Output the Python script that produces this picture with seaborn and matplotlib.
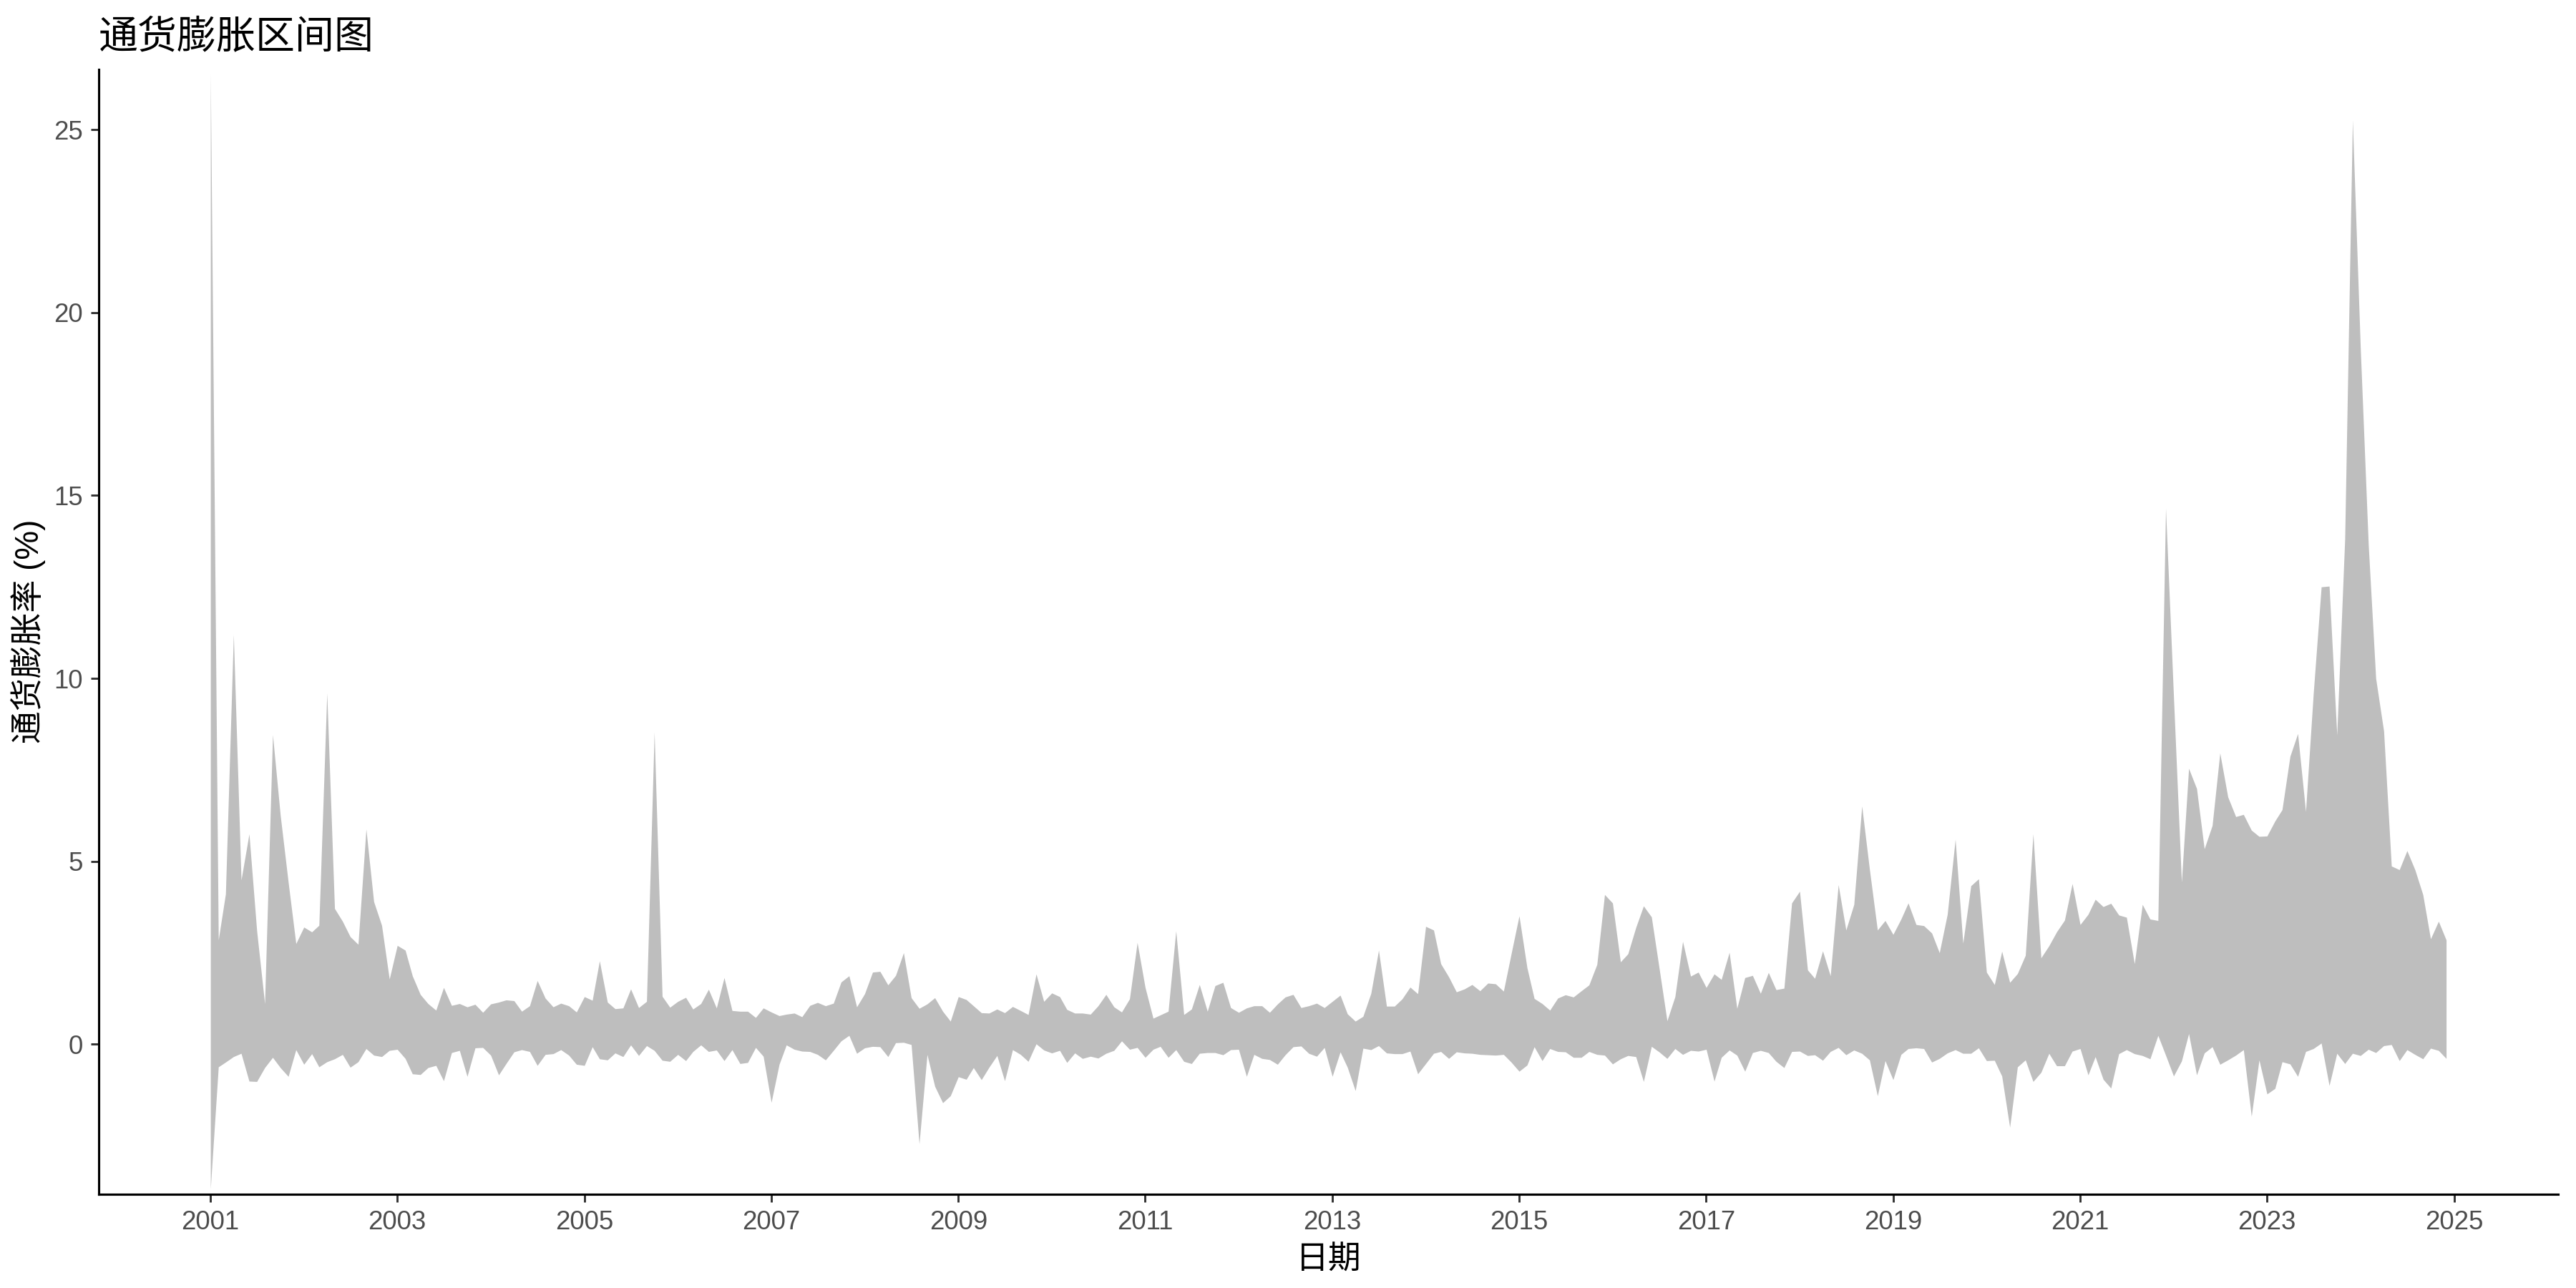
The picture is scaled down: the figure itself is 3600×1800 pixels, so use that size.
import numpy as np
import pandas as pd
import matplotlib
matplotlib.use("Agg")
import matplotlib.pyplot as plt
import seaborn as sns

# Datos mensuales 2001-01 .. 2024-12 (limite superior e inferior del intervalo, %)
fechas = pd.date_range("2001-01-01", periods=288, freq="MS")

superior = [
    26.55, 2.85, 4.11, 11.2, 4.49, 5.75, 3.10, 1.11, 8.46, 6.26, 4.43, 2.75,
    3.20, 3.07, 3.25, 9.6, 3.71, 3.36, 2.94, 2.73, 5.88, 3.90, 3.25, 1.78,
    2.70, 2.57, 1.87, 1.36, 1.11, 0.93, 1.55, 1.06, 1.11, 1.02, 1.09, 0.87,
    1.10, 1.15, 1.21, 1.19, 0.90, 1.05, 1.74, 1.26, 1.02, 1.12, 1.05, 0.88,
    1.30, 1.20, 2.28, 1.15, 0.97, 0.99, 1.51, 1.00, 1.17, 8.53, 1.31, 1.01,
    1.17, 1.28, 0.96, 1.11, 1.50, 0.99, 1.82, 0.92, 0.90, 0.90, 0.73, 0.99,
    0.88, 0.78, 0.82, 0.85, 0.75, 1.06, 1.14, 1.05, 1.12, 1.70, 1.87, 1.02,
    1.38, 1.97, 1.99, 1.62, 1.88, 2.50, 1.27, 0.98, 1.10, 1.27, 0.90, 0.63,
    1.30, 1.22, 1.05, 0.86, 0.85, 0.96, 0.86, 1.03, 0.92, 0.81, 1.92, 1.17,
    1.40, 1.30, 0.95, 0.85, 0.85, 0.82, 1.05, 1.36, 1.02, 0.88, 1.24, 2.78,
    1.55, 0.71, 0.80, 0.90, 3.10, 0.81, 0.96, 1.63, 0.90, 1.60, 1.69, 1.00,
    0.87, 0.99, 1.05, 1.05, 0.87, 1.10, 1.29, 1.36, 1.00, 1.05, 1.12, 1.00,
    1.17, 1.34, 0.83, 0.63, 0.76, 1.39, 2.57, 1.04, 1.04, 1.24, 1.56, 1.38,
    3.22, 3.12, 2.20, 1.84, 1.43, 1.51, 1.63, 1.46, 1.67, 1.65, 1.45, 2.47,
    3.51, 2.09, 1.25, 1.11, 0.93, 1.26, 1.35, 1.29, 1.46, 1.62, 2.18, 4.09,
    3.86, 2.25, 2.47, 3.19, 3.78, 3.48, 2.09, 0.64, 1.30, 2.81, 1.86, 1.97,
    1.55, 1.92, 1.77, 2.51, 0.98, 1.82, 1.88, 1.39, 1.96, 1.49, 1.53, 3.86,
    4.18, 2.03, 1.80, 2.55, 1.87, 4.36, 3.12, 3.82, 6.51, 4.78, 3.12, 3.38,
    3.00, 3.42, 3.86, 3.27, 3.24, 3.04, 2.50, 3.55, 5.60, 2.76, 4.33, 4.52,
    1.97, 1.63, 2.54, 1.69, 1.93, 2.43, 5.75, 2.36, 2.69, 3.07, 3.39, 4.39,
    3.27, 3.55, 3.96, 3.76, 3.85, 3.53, 3.47, 2.20, 3.82, 3.42, 3.38, 14.65,
    9.5, 4.43, 7.54, 6.99, 5.34, 5.98, 7.96, 6.76, 6.22, 6.28, 5.85, 5.68,
    5.69, 6.10, 6.41, 7.87, 8.49, 6.36, 9.58, 12.5, 12.52, 8.45, 13.82, 25.26,
    19.0, 13.65, 10.0, 8.56, 4.87, 4.77, 5.29, 4.77, 4.09, 2.88, 3.36, 2.85,
]

inferior = [
    -3.95, -0.62, -0.49, -0.34, -0.25, -1.01, -1.02, -0.64, -0.36, -0.64, -0.88, -0.15,
    -0.55, -0.26, -0.62, -0.48, -0.40, -0.28, -0.63, -0.48, -0.12, -0.30, -0.34, -0.17,
    -0.14, -0.39, -0.81, -0.83, -0.64, -0.58, -1.00, -0.23, -0.17, -0.88, -0.10, -0.09,
    -0.30, -0.84, -0.53, -0.21, -0.15, -0.20, -0.58, -0.28, -0.26, -0.15, -0.30, -0.55,
    -0.58, -0.07, -0.40, -0.43, -0.24, -0.34, -0.02, -0.31, -0.04, -0.17, -0.44, -0.47,
    -0.28, -0.45, -0.20, -0.02, -0.20, -0.16, -0.45, -0.15, -0.53, -0.50, -0.09, -0.33,
    -1.59, -0.55, -0.02, -0.14, -0.19, -0.20, -0.28, -0.43, -0.17, 0.09, 0.24, -0.25,
    -0.10, -0.06, -0.07, -0.34, 0.04, 0.05, -0.01, -2.72, -0.28, -1.15, -1.60, -1.41,
    -0.89, -0.96, -0.64, -0.97, -0.63, -0.31, -1.00, -0.15, -0.28, -0.47, 0.01, -0.16,
    -0.24, -0.17, -0.50, -0.24, -0.39, -0.33, -0.38, -0.25, -0.17, 0.09, -0.14, -0.09,
    -0.36, -0.14, -0.06, -0.36, -0.15, -0.47, -0.53, -0.25, -0.23, -0.23, -0.29, -0.15,
    -0.14, -0.88, -0.28, -0.39, -0.42, -0.55, -0.29, -0.07, -0.05, -0.25, -0.33, -0.09,
    -0.88, -0.21, -0.63, -1.27, -0.11, -0.15, -0.04, -0.24, -0.26, -0.26, -0.19, -0.81,
    -0.53, -0.25, -0.20, -0.39, -0.21, -0.24, -0.25, -0.28, -0.29, -0.30, -0.28, -0.49,
    -0.74, -0.57, -0.07, -0.45, -0.12, -0.20, -0.21, -0.36, -0.36, -0.20, -0.28, -0.30,
    -0.54, -0.40, -0.31, -0.34, -1.02, -0.06, -0.21, -0.39, -0.12, -0.28, -0.17, -0.19,
    -0.14, -1.01, -0.36, -0.16, -0.30, -0.74, -0.23, -0.17, -0.23, -0.47, -0.64, -0.20,
    -0.19, -0.31, -0.29, -0.44, -0.20, -0.09, -0.29, -0.16, -0.25, -0.43, -1.41, -0.45,
    -0.97, -0.28, -0.12, -0.10, -0.12, -0.49, -0.39, -0.24, -0.15, -0.25, -0.25, -0.10,
    -0.45, -0.44, -0.87, -2.27, -0.62, -0.43, -1.02, -0.77, -0.25, -0.59, -0.59, -0.19,
    -0.12, -0.84, -0.34, -0.96, -1.20, -0.26, -0.15, -0.26, -0.31, -0.40, 0.24, -0.30,
    -0.87, -0.46, 0.29, -0.84, -0.24, -0.07, -0.55, -0.43, -0.30, -0.15, -1.97, -0.43,
    -1.36, -1.21, -0.48, -0.54, -0.88, -0.20, -0.12, 0.03, -1.13, -0.25, -0.53, -0.25,
    -0.31, -0.14, -0.23, -0.04, -0.01, -0.45, -0.15, -0.28, -0.40, -0.11, -0.17, -0.39,
]

anios_ticks = list(range(2001, 2026, 2))
y_ticks = [0, 5, 10, 15, 20, 25]

df = pd.DataFrame({"fecha": fechas, "superior": superior, "inferior": inferior})

sns.set_theme(style="ticks")
plt.rcParams["font.family"] = ["Liberation Sans", "Noto Sans CJK SC", "DejaVu Sans"]

fig, ax = plt.subplots(figsize=(12, 6), dpi=300)
fig.subplots_adjust(left=0.0383, right=0.993, top=0.9463, bottom=0.0728)

# Banda del intervalo
ax.fill_between(df["fecha"], df["inferior"], df["superior"], color="#BEBEBE", linewidth=0)

# Limites (expansion 5% en x)
inicio, fin = df["fecha"].min(), df["fecha"].max()
margen = (fin - inicio) * 0.05
ax.set_xlim(inicio - margen, fin + margen)
ax.set_ylim(-4.1, 26.65)

ax.set_xticks(pd.to_datetime([f"{a}-01-01" for a in anios_ticks]))
ax.set_xticklabels([str(a) for a in anios_ticks])
ax.set_yticks(y_ticks)
ax.set_yticklabels([str(v) for v in y_ticks])

ax.tick_params(axis="both", which="major", length=2.75, width=0.7, color="#333333",
               labelsize=8.8, labelcolor="#4D4D4D", pad=2.6, direction="out")

sns.despine(ax=ax)
for lado in ["left", "bottom"]:
    ax.spines[lado].set_linewidth(0.75)
    ax.spines[lado].set_color("black")

ax.set_title("通货膨胀区间图", loc="left", fontsize=13.2, color="black", pad=7,
             family=["Noto Sans CJK SC"])
ax.set_xlabel("日期", fontsize=11, color="black")
ax.set_ylabel("通货膨胀率 (%)", fontsize=11, color="black")
ax.xaxis.set_label_coords(0.5, -0.045)
ax.yaxis.set_label_coords(-0.0215, 0.5)

ax.grid(False)
fig.savefig("out.png", dpi=300, facecolor="white")
